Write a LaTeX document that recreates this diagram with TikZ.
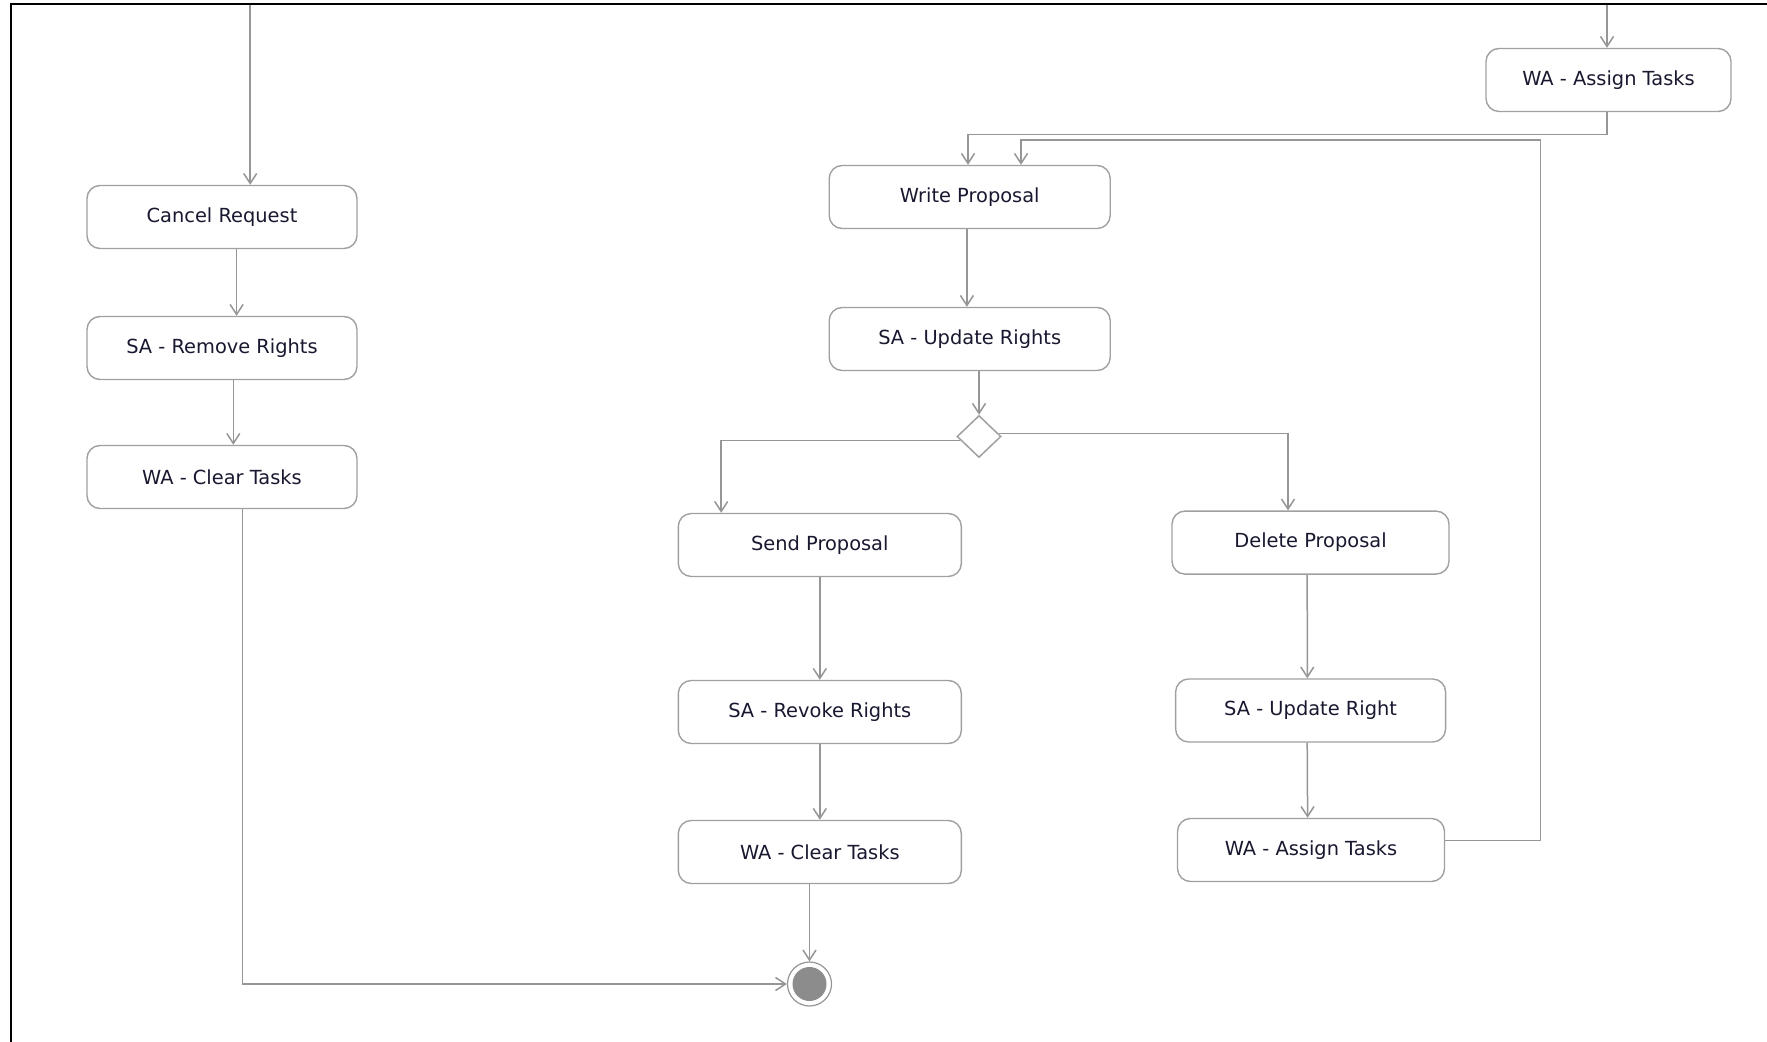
\documentclass[tikz,border=0pt]{standalone}
\usepackage{fontspec}
\setmainfont{DejaVu Sans}
\usetikzlibrary{arrows.meta,shapes.geometric,calc}
\definecolor{edgegray}{RGB}{150,150,150}
\definecolor{boxgray}{RGB}{160,160,160}
\definecolor{labelink}{RGB}{24,24,48}
\definecolor{endfill}{RGB}{140,140,140}

\begin{document}
\begin{tikzpicture}[x=0.5pt,y=-0.5pt,
  action/.style={draw=boxgray, line width=0.7pt, rounded corners=6.5pt, fill=white,
    inner sep=0pt, minimum height=31.5pt, text=labelink,
    font=\fontsize{9.7pt}{11pt}\selectfont},
  choice/.style={diamond, draw=boxgray, line width=0.75pt, fill=white, inner sep=0pt,
    minimum width=22pt, minimum height=21pt},
  finalnode/.style={circle, draw=edgegray, line width=0.6pt, fill=white, inner sep=0pt,
    minimum size=22pt,
    path picture={\fill[endfill] (path picture bounding box.center) circle (8.5pt);}},
  flow/.style={draw=edgegray, line width=0.75pt,
    -{Straight Barb[length=5pt,width=6.5pt,line width=0.75pt]}}]

% canvas and frame
\fill[white] (0,0) rectangle (1767,1042);
\useasboundingbox (0,0) rectangle (1767,1042);
\draw[black, line width=1pt] (1767,4.5) -- (10.5,4.5) -- (10.5,1042);

% left column
\node[action, minimum width=135pt] (cr)  at (222,217) {Cancel Request};
\node[action, minimum width=135pt] (srr) at (222,348) {SA - Remove Rights};
\node[action, minimum width=135pt] (wcl) at (222,477) {WA - Clear Tasks};

% top right
\node[action, minimum width=122.5pt] (wat) at (1608.5,80) {WA - Assign Tasks};

% middle column
\node[action, minimum width=140.5pt] (wp)  at (969.7,197) {Write Proposal};
\node[action, minimum width=140.5pt] (sur) at (969.7,339) {SA - Update Rights};
\node[choice] (dm) at (979,436.5) {};
\node[action, minimum width=141.5pt] (sp)  at (819.8,545) {Send Proposal};
\node[action, minimum width=141.5pt] (srv) at (819.8,712) {SA - Revoke Rights};
\node[action, minimum width=141.5pt] (wcm) at (819.8,852) {WA - Clear Tasks};

% right column
\node[action, minimum width=138.5pt] (dp)  at (1310.5,542.6) {Delete Proposal};
\node[action, minimum width=135pt]   (sud) at (1310.6,710.5) {SA - Update Right};
\node[action, minimum width=133.5pt] (wam) at (1311,850) {WA - Assign Tasks};

% final node
\node[finalnode] (fin) at (809.5,984) {};

% incoming flows from above
\coordinate (inL) at (250.2,5);
\coordinate (inR) at (1607,5);
\coordinate (loop) at (1540.5,140);

\draw[flow] (inL) -- (inL |- cr.north);
\draw[flow] ($(cr.south)+(14.6,0)$) -- ($(srr.north)+(14.6,0)$);
\draw[flow] ($(srr.south)+(11.3,0)$) -- ($(wcl.north)+(11.3,0)$);
\draw[flow] ($(wcl.south)+(20.3,0)$) |- (fin.west);

\draw[flow] (inR) -- (inR |- wat.north);
\draw[flow] ($(wat.south)+(-1.5,0)$) -- ++(0,22.4) -| ($(wp.north)+(-1.7,0)$);
\draw[flow] ($(wam.east)+(0,-9.5)$) -| (loop) -| ($(wp.north)+(51.3,0)$);

\draw[flow] ($(wp.south)+(-2.8,0)$) -- ($(sur.north)+(-2.8,0)$);
\draw[flow] (sur.south -| dm.north) -- (dm.north);
\draw[flow] ($(dm.west)+(4,4)$) -| ($(sp.north)+(-98.6,0)$);
\draw[flow] ($(dm.east)+(-3,-3)$) -| ($(dp.north)+(-22.5,0)$);

\draw[flow] (sp.south) -- (srv.north);
\draw[flow] (srv.south) -- (wcm.north);
\draw[flow] (wcm.south -| fin.north) -- (fin.north);

\draw[flow] ($(dp.south)+(-3.3,0)$) -- ($(sud.north)+(-3.3,0)$);
\draw[flow] ($(sud.south)+(-3.4,0)$) -- ($(wam.north)+(-3.4,0)$);
\end{tikzpicture}
\end{document}
